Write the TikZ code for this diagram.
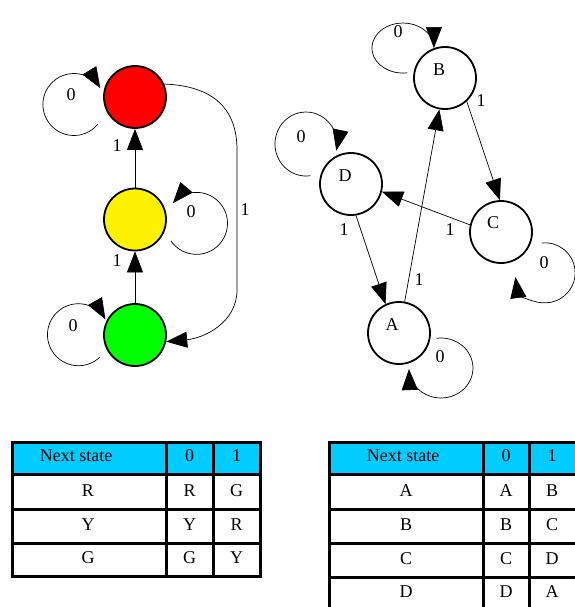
\documentclass[tikz,border=0pt]{standalone}
\usepackage{fontspec}
\setmainfont{Liberation Serif}
\usetikzlibrary{arrows.meta}
\definecolor{hdrcyan}{RGB}{0,204,255}
\begin{document}
\begin{tikzpicture}[x=1pt,y=1pt,
  state/.style={circle,draw,line width=1.8pt,minimum size=62pt,inner sep=0pt},
  arr/.style={-{Triangle[length=21pt,width=16pt]},line width=0.7pt},
  lbl/.style={font=\fontsize{18}{20}\selectfont,inner sep=0pt},
  tline/.style={line width=3pt},
  hdr/.style={fill=hdrcyan}]
\useasboundingbox (0,0) rectangle (574,-607);

% ---------- left machine ----------
\node[state,fill=red] (R) at (135,-97) {};
\node[state,fill=yellow] (Y) at (135,-219.5) {};
\node[state,fill=green] (G) at (135,-335) {};

\draw[arr] (Y) -- node[lbl,pos=0.72,xshift=-18pt] (lyr) {1} (R);
\draw[arr] (G) -- node[lbl,pos=0.82,xshift=-18pt] (lgy) {1} (Y);
\draw[arr] (R.24) .. controls (215,-86) and (237,-110) .. (237,-150)
   -- (237,-290) .. controls (237,-322) and (205,-338) .. (G.-12);
\node[lbl] (lrg) at (245,-210) {1};

\coordinate (rls) at (98,-124);
\draw[arr] (rls) arc[start angle=-39,end angle=-328.5,radius=31];
\node[lbl] (lrr) at (71,-95) {0};

\coordinate (yls) at (171,-241);
\draw[arr] (yls) arc[start angle=214.7,end angle=499.6,radius=31];
\node[lbl] (lyy) at (191,-212) {0};

\coordinate (gls) at (100,-357);
\draw[arr] (gls) arc[start angle=-46,end angle=-330.3,radius=31];
\node[lbl] (lgg) at (73,-326) {0};

% ---------- right machine ----------
\node[state,fill=white,label={[lbl,xshift=-6pt,yshift=8pt]center:B}] (B) at (445,-78) {};
\node[state,fill=white,label={[lbl,xshift=-6pt,yshift=8pt]center:D}] (D) at (351,-184) {};
\node[state,fill=white,label={[lbl,xshift=-8pt,yshift=9pt]center:C}] (C) at (501,-232) {};
\node[state,fill=white,label={[lbl,xshift=-7pt,yshift=8pt]center:A}] (A) at (399,-333) {};

\draw[arr] (A) -- (B);
\node[lbl] (lab) at (419,-280) {1};
\draw[arr] (B.-47) -- (C.92);
\node[lbl] (lbc) at (481,-101) {1};
\draw[arr] (C.167) -- (D.-14);
\node[lbl] (lcd) at (450,-230) {1};
\draw[arr] (D.-81) -- (A.115);
\node[lbl] (lda) at (344,-230) {1};

\coordinate (bls) at (407.2,-72.8);
\draw[arr] (bls) arc[start angle=-82,end angle=-360,x radius=31,y radius=25];
\node[lbl] (lbb) at (398,-32) {0};

\coordinate (dls) at (310.3,-175.7);
\draw[arr] (dls) arc[start angle=-82,end angle=-372,x radius=31,y radius=32];
\node[lbl] (ldd) at (301,-137) {0};

\coordinate (cls) at (542,-243);
\draw[arr] (cls) arc[start angle=96,end angle=-172,radius=30];
\node[lbl] (lcc) at (544,-263) {0};

\coordinate (als) at (436.5,-338.3);
\draw[arr] (als) arc[start angle=98,end angle=-178,x radius=32,y radius=30];
\node[lbl] (laa) at (440,-357) {0};

% ---------- left table ----------
\fill[hdr] (12,-442) rectangle (260,-474);
\draw[tline] (12,-442) rectangle (260,-576);
\foreach \yy in {-474,-509,-543} \draw[tline] (12,\yy) -- (260,\yy);
\foreach \xx in {166,213} \draw[tline] (\xx,-442) -- (\xx,-576);
\node[lbl] (t1h) at (76,-456) {Next state};
\node[lbl] (t1h0) at (189.5,-456) {0};
\node[lbl] (t1h1) at (236.5,-456) {1};
\node[lbl] (t1r1) at (88,-491) {R};
\node[lbl] (t1r10) at (189.5,-491) {R};
\node[lbl] (t1r11) at (236.5,-491) {G};
\node[lbl] (t1r2) at (88,-525) {Y};
\node[lbl] (t1r20) at (189.5,-525) {Y};
\node[lbl] (t1r21) at (236.5,-525) {R};
\node[lbl] (t1r3) at (88,-558) {G};
\node[lbl] (t1r30) at (189.5,-558) {G};
\node[lbl] (t1r31) at (236.5,-558) {Y};

% ---------- right table ----------
\fill[hdr] (329,-442) rectangle (577,-474);
\draw[tline] (329,-442) rectangle (577,-612);
\foreach \yy in {-474,-509,-543,-577} \draw[tline] (329,\yy) -- (577,\yy);
\foreach \xx in {483,529} \draw[tline] (\xx,-442) -- (\xx,-612);
\node[lbl] (t2h) at (403,-456) {Next state};
\node[lbl] (t2h0) at (506,-456) {0};
\node[lbl] (t2h1) at (552,-456) {1};
\node[lbl] (t2r1) at (406,-491) {A};
\node[lbl] (t2r10) at (506,-491) {A};
\node[lbl] (t2r11) at (552,-491) {B};
\node[lbl] (t2r2) at (406,-525) {B};
\node[lbl] (t2r20) at (506,-525) {B};
\node[lbl] (t2r21) at (552,-525) {C};
\node[lbl] (t2r3) at (406,-559) {C};
\node[lbl] (t2r30) at (506,-559) {C};
\node[lbl] (t2r31) at (552,-559) {D};
\node[lbl] (t2r4) at (406,-592) {D};
\node[lbl] (t2r40) at (506,-592) {D};
\node[lbl] (t2r41) at (552,-592) {A};
\end{tikzpicture}
\end{document}
